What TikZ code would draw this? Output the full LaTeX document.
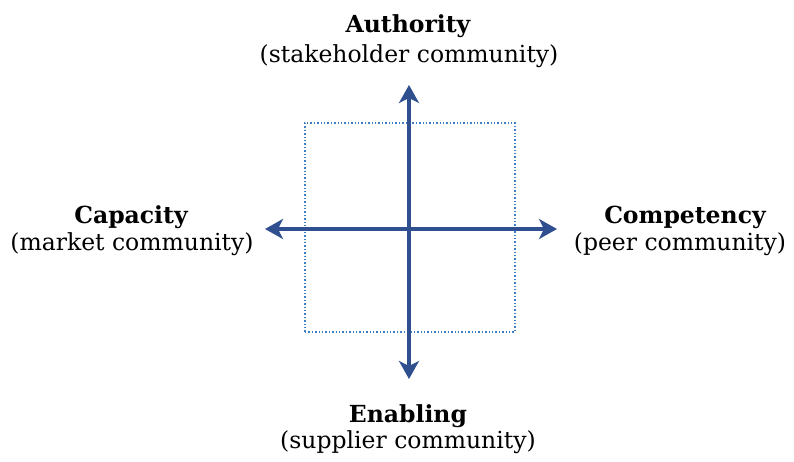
\documentclass[tikz,border=0pt]{standalone}
\usepackage{fontspec}
\setmainfont{DejaVu Serif}
\usetikzlibrary{arrows.meta}
\definecolor{axisblue}{HTML}{2F4F8F}
\definecolor{boxblue}{HTML}{3C7FC4}
\begin{document}
\begin{tikzpicture}[x=1pt,y=-1pt,
  axis/.style={draw=axisblue,line width=4pt,{Stealth[length=18pt,width=20pt,inset=5pt]}-{Stealth[length=18pt,width=20pt,inset=5pt]}},
  quad/.style={draw=boxblue,line width=1.4pt,dotted},
  ttl/.style={anchor=base,font=\fontsize{23.5}{28}\selectfont\bfseries,inner sep=0pt},
  sub/.style={anchor=base,font=\fontsize{23.5}{28}\selectfont,inner sep=0pt}]
\useasboundingbox (0,0) rectangle (794,462);
\node[quad,minimum width=210pt,minimum height=209pt,inner sep=0pt] (box) at (410,227.5) {};
\coordinate (top) at (409,85);
\coordinate (bot) at (409,379);
\coordinate (lft) at (265,229);
\coordinate (rgt) at (557,229);
\draw[axis] (top) -- (bot);
\draw[axis] (lft) -- (rgt);
\node[ttl] (auth) at (408,33) {Authority};
\node[sub] (authsub) at (409,63) {(stakeholder community)};
\node[ttl] (cap) at (131,224) {Capacity};
\node[sub] (capsub) at (132,250) {(market community)};
\node[ttl] (comp) at (685,224) {Competency};
\node[sub] (compsub) at (680,250) {(peer community)};
\node[ttl] (enab) at (408,422) {Enabling};
\node[sub] (enabsub) at (408,448) {(supplier community)};
\end{tikzpicture}
\end{document}
